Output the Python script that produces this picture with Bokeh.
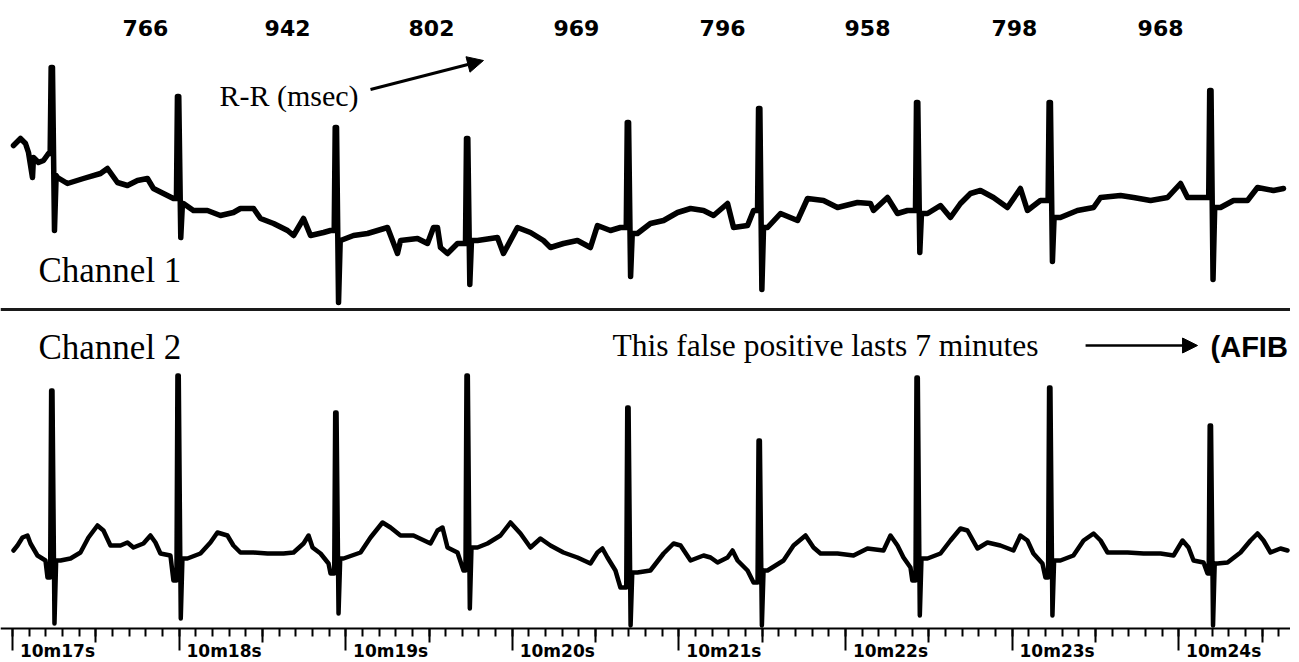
from bokeh.plotting import figure
from bokeh.models import (Range1d, FixedTicker, Span, Arrow, NormalHead, ColumnDataSource,
                          Label, LabelSet, LinearAxis)
from bokeh.core.properties import value
from bokeh.embed import file_html
from bokeh.resources import INLINE

# ---------------- data (time in s after 10m00s, amplitude in mV) ----------------
r_peak_times = [17.232, 17.990, 18.937, 19.725, 20.690, 21.478, 22.426, 23.222, 24.186]
rr_msec = [766, 942, 802, 969, 796, 958, 798, 968]
rr_label_times = [17.798, 18.651, 19.515, 20.385, 21.262, 22.132, 23.014, 23.891]

ch1_q_amp = [0.75, 0.30, -0.02, -0.15, 0.01, 0.18, 0.18, 0.28, 0.31]
ch1_r_amp = [1.61, 1.32, 1.01, 0.90, 1.06, 1.20, 1.26, 1.26, 1.38]
ch1_s_amp = [-0.02, -0.09, -0.74, -0.56, -0.48, -0.61, -0.24, -0.33, -0.51]
ch1_j_amp = [0.53, 0.25, -0.12, -0.12, -0.05, 0.01, 0.15, 0.11, 0.21]
ch2_q_amp = [0.01, -0.02, 0.05, 0.08, -0.09, -0.04, -0.02, 0.01, 0.05]
ch2_r_amp = [1.88, 2.03, 1.66, 2.03, 1.71, 1.38, 2.01, 1.91, 1.53]
ch2_s_amp = [-0.45, -0.40, -0.35, -0.30, -0.47, -0.47, -0.37, -0.37, -0.47]
ch2_j_amp = [0.18, 0.20, 0.20, 0.31, 0.06, 0.08, 0.20, 0.18, 0.15]

ch1_t = [17.006, 17.048, 17.078, 17.096, 17.120, 17.126, 17.156, 17.186, 17.216,
         17.270, 17.330, 17.426, 17.528, 17.570, 17.630, 17.690, 17.750, 17.810, 17.846, 17.906, 17.966,
         18.026, 18.086, 18.170, 18.248, 18.326, 18.368, 18.447, 18.489, 18.567, 18.651, 18.687, 18.747, 18.789, 18.867, 18.909,
         18.969, 19.047, 19.131, 19.191, 19.251, 19.311, 19.329, 19.431, 19.491, 19.527, 19.551, 19.569, 19.611, 19.671,
         19.791, 19.911, 19.947, 20.031, 20.109, 20.187, 20.229, 20.307, 20.391, 20.469, 20.511, 20.589, 20.649,
         20.751, 20.829, 20.908, 20.992, 21.070, 21.148, 21.208, 21.292, 21.328, 21.412, 21.448,
         21.532, 21.610, 21.712, 21.772, 21.868, 21.952, 22.072, 22.150, 22.168, 22.252, 22.312, 22.372,
         22.492, 22.570, 22.630, 22.690, 22.750, 22.810, 22.888, 22.972, 23.050, 23.092, 23.170,
         23.290, 23.392, 23.489, 23.531, 23.651, 23.729, 23.831, 23.933, 24.011, 24.053, 24.131,
         24.251, 24.329, 24.413, 24.473, 24.569, 24.629]
ch1_v = [0.83, 0.90, 0.85, 0.76, 0.51, 0.71, 0.66, 0.68, 0.75,
         0.51, 0.45, 0.50, 0.55, 0.60, 0.46, 0.43, 0.48, 0.50, 0.40, 0.35, 0.30,
         0.25, 0.18, 0.18, 0.13, 0.16, 0.20, 0.20, 0.10, 0.05, -0.02, -0.07, 0.10, -0.07, -0.04, -0.02,
         -0.12, -0.07, -0.05, -0.02, 0.01, -0.25, -0.12, -0.10, -0.15, 0.01, 0.01, -0.19, -0.25, -0.15,
         -0.12, -0.09, -0.25, 0.01, -0.04, -0.12, -0.19, -0.15, -0.12, -0.19, 0.03, -0.02, 0.01,
         -0.05, 0.05, 0.08, 0.16, 0.20, 0.18, 0.13, 0.25, 0.01, 0.03, 0.18,
         0.01, 0.15, 0.08, 0.30, 0.28, 0.21, 0.26, 0.25, 0.18, 0.31, 0.15, 0.18,
         0.15, 0.23, 0.11, 0.25, 0.35, 0.38, 0.31, 0.21, 0.40, 0.18, 0.28,
         0.11, 0.18, 0.21, 0.31, 0.33, 0.31, 0.28, 0.31, 0.45, 0.31, 0.31,
         0.21, 0.28, 0.28, 0.41, 0.38, 0.40]

ch2_t = [17.006, 17.030, 17.060, 17.090, 17.108, 17.150, 17.198, 17.210,
         17.288, 17.348, 17.408, 17.456, 17.510, 17.546, 17.588, 17.648, 17.690, 17.726, 17.786, 17.828, 17.858, 17.888, 17.948, 17.966,
         18.050, 18.128, 18.188, 18.230, 18.290, 18.326, 18.368, 18.447, 18.531, 18.627, 18.687, 18.747, 18.777, 18.801, 18.849, 18.897, 18.909,
         18.987, 19.089, 19.149, 19.221, 19.269, 19.329, 19.407, 19.509, 19.551, 19.581, 19.611, 19.671, 19.707,
         19.791, 19.851, 19.929, 19.989, 20.049, 20.109, 20.169, 20.229, 20.307, 20.391, 20.469, 20.511, 20.541, 20.571, 20.619, 20.649,
         20.751, 20.829, 20.908, 20.968, 21.010, 21.070, 21.148, 21.190, 21.232, 21.292, 21.322, 21.352, 21.412, 21.448,
         21.532, 21.628, 21.688, 21.760, 21.808, 21.850, 21.952, 22.048, 22.132, 22.228, 22.270, 22.312, 22.348, 22.390, 22.401,
         22.492, 22.570, 22.630, 22.690, 22.732, 22.792, 22.852, 22.930, 23.008, 23.050, 23.092, 23.128, 23.182, 23.200,
         23.290, 23.368, 23.429, 23.489, 23.531, 23.573, 23.693, 23.789, 23.891, 23.969, 24.023, 24.059, 24.089, 24.149, 24.173,
         24.233, 24.293, 24.371, 24.431, 24.473, 24.509, 24.551, 24.611, 24.653]
ch2_v = [0.28, 0.33, 0.41, 0.43, 0.35, 0.23, 0.18, 0.01,
         0.18, 0.20, 0.26, 0.41, 0.53, 0.48, 0.33, 0.33, 0.36, 0.31, 0.35, 0.43, 0.36, 0.25, 0.23, -0.02,
         0.20, 0.25, 0.36, 0.46, 0.43, 0.33, 0.26, 0.26, 0.25, 0.25, 0.26, 0.35, 0.43, 0.31, 0.25, 0.15, 0.05,
         0.20, 0.26, 0.41, 0.56, 0.51, 0.43, 0.43, 0.35, 0.48, 0.51, 0.31, 0.26, 0.08,
         0.31, 0.35, 0.43, 0.56, 0.45, 0.31, 0.40, 0.33, 0.26, 0.21, 0.15, 0.26, 0.30, 0.21, 0.08, -0.09,
         0.06, 0.08, 0.25, 0.35, 0.33, 0.18, 0.23, 0.21, 0.16, 0.21, 0.28, 0.18, 0.08, -0.04,
         0.08, 0.18, 0.33, 0.43, 0.31, 0.25, 0.25, 0.23, 0.30, 0.28, 0.43, 0.33, 0.21, 0.11, -0.02,
         0.20, 0.25, 0.38, 0.50, 0.48, 0.30, 0.36, 0.33, 0.28, 0.43, 0.38, 0.25, 0.15, 0.01,
         0.18, 0.23, 0.38, 0.45, 0.38, 0.26, 0.26, 0.25, 0.25, 0.23, 0.38, 0.31, 0.18, 0.16, 0.05,
         0.15, 0.16, 0.26, 0.38, 0.45, 0.38, 0.26, 0.30, 0.28]

tick_seconds = [17, 18, 19, 20, 21, 22, 23, 24]
tick_labels = ["10m17s", "10m18s", "10m19s", "10m20s", "10m21s", "10m22s", "10m23s", "10m24s"]

# ---------------- layout constants ----------------
CH1_OFFSET = 4.0
CH2_OFFSET = 0.5
LABEL_SHIFT = 0.27
SERIF = "Liberation Serif"
SANS = "Liberation Sans"
BOLD_SANS = "DejaVu Sans"


def build_trace(t_base, v_base, q_amp, r_amp, s_amp, j_amp, offset):
    pts = list(zip(t_base, v_base))
    for tr, qa, ra, sa, ja in zip(r_peak_times, q_amp, r_amp, s_amp, j_amp):
        pts += [(tr - 0.006, qa), (tr, ra), (tr + 0.008, ra),
                (tr + 0.020, sa), (tr + 0.030, ja)]
    pts.sort()
    return dict(t=[p[0] for p in pts], y=[p[1] + offset for p in pts])


p = figure(frame_width=1290, frame_height=660,
           x_range=Range1d(16.928, 24.671), y_range=Range1d(-0.32, 6.28),
           output_backend="svg", toolbar_location=None,
           min_border=0, x_axis_location=None, y_axis_location=None)
p.outline_line_color = None
p.xgrid.visible = False
p.ygrid.visible = False
p.background_fill_color = "white"
p.border_fill_color = "white"

p.line("t", "y", source=ColumnDataSource(build_trace(ch1_t, ch1_v, ch1_q_amp, ch1_r_amp,
                                                     ch1_s_amp, ch1_j_amp, CH1_OFFSET)),
       line_color="black", line_width=5.5, line_join="round", line_cap="round")
p.line("t", "y", source=ColumnDataSource(build_trace(ch2_t, ch2_v, ch2_q_amp, ch2_r_amp,
                                                     ch2_s_amp, ch2_j_amp, CH2_OFFSET)),
       line_color="black", line_width=4.5, line_join="round", line_cap="round")

# separator between channels
p.add_layout(Span(location=3.19, dimension="width", line_color="#1a1a1a", line_width=3))

# time axis: seconds (long ticks) + tenths (short ticks)
ax_main = LinearAxis(fixed_location=0,
                     ticker=FixedTicker(ticks=tick_seconds,
                                        minor_ticks=[round(17 + 0.1 * i, 1) for i in range(77)]),
                     axis_line_color="black", axis_line_width=2,
                     major_tick_line_color="black", major_tick_line_width=2,
                     major_tick_in=0, major_tick_out=22,
                     minor_tick_line_color="black", minor_tick_line_width=2,
                     minor_tick_in=0, minor_tick_out=8,
                     major_label_text_color=None)
p.add_layout(ax_main, "below")

# half-second ticks (medium length)
ax_half = LinearAxis(fixed_location=0,
                     ticker=FixedTicker(ticks=[t + 0.5 for t in tick_seconds], minor_ticks=[]),
                     axis_line_color=None,
                     major_tick_line_color="black", major_tick_line_width=2,
                     major_tick_in=0, major_tick_out=14,
                     minor_tick_line_color=None,
                     major_label_text_color=None)
p.add_layout(ax_half, "below")

# tick labels, written just right of each second tick
label_ticks = [t + LABEL_SHIFT for t in tick_seconds]
ax_lab = LinearAxis(fixed_location=0,
                    ticker=FixedTicker(ticks=label_ticks, minor_ticks=[]),
                    axis_line_color=None, major_tick_line_color=None, minor_tick_line_color=None,
                    major_tick_in=0, major_tick_out=0, minor_tick_in=0, minor_tick_out=0,
                    major_label_standoff=12,
                    major_label_overrides=dict(zip(label_ticks, tick_labels)),
                    major_label_text_font=BOLD_SANS, major_label_text_font_style="bold",
                    major_label_text_font_size="17px", major_label_text_color="black")
p.add_layout(ax_lab, "below")

# R-R interval labels
rr_src = ColumnDataSource(dict(t=rr_label_times, label=[str(v) for v in rr_msec]))
p.add_layout(LabelSet(x="t", y=6.01, text="label", source=rr_src,
                      text_align="center", text_baseline="middle",
                      text_font=value(BOLD_SANS), text_font_style="bold",
                      text_font_size="22px", text_color="black"))

# annotations
p.add_layout(Label(x=19.077, y=5.33, text="R-R (msec)", text_align="right",
                   text_baseline="middle", text_font=SERIF, text_font_size="30px",
                   text_color="black"))
p.add_layout(Arrow(end=NormalHead(size=16, fill_color="black", line_color="black"),
                   x_start=19.149, y_start=5.39, x_end=19.827, y_end=5.68,
                   line_color="black", line_width=3))
p.add_layout(Label(x=17.156, y=3.58, text="Channel 1", text_align="left",
                   text_baseline="middle", text_font=SERIF, text_font_size="35px",
                   text_color="black"))
p.add_layout(Label(x=17.156, y=2.81, text="Channel 2", text_align="left",
                   text_baseline="middle", text_font=SERIF, text_font_size="35px",
                   text_color="black"))
p.add_layout(Label(x=20.601, y=2.83, text="This false positive lasts 7 minutes",
                   text_align="left", text_baseline="middle",
                   text_font=SERIF, text_font_size="31.5px", text_color="black"))
p.add_layout(Arrow(end=NormalHead(size=15, fill_color="black", line_color="black"),
                   x_start=23.441, y_start=2.83, x_end=24.113, y_end=2.83,
                   line_color="black", line_width=2.5))
p.add_layout(Label(x=24.191, y=2.82, text="(AFIB", text_align="left",
                   text_baseline="middle", text_font=SANS, text_font_style="bold",
                   text_font_size="29px", text_color="black"))

open("out.html", "w").write(file_html(p, INLINE))
